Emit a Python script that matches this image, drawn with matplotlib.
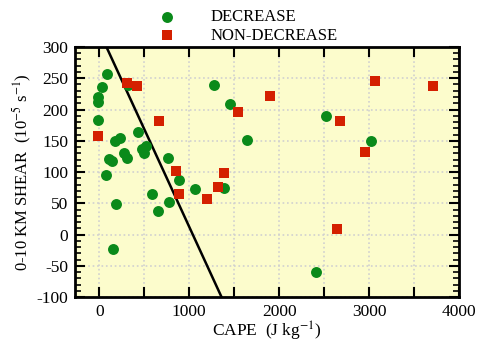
import matplotlib
matplotlib.use("Agg")
import matplotlib.pyplot as plt
from matplotlib.ticker import MultipleLocator, FuncFormatter

plt.rcParams['font.family'] = ['Liberation Serif', 'DejaVu Serif']
plt.rcParams['mathtext.fontset'] = 'stix'
plt.rcParams['axes.unicode_minus'] = False

# DECREASE cases (CAPE, shear)
dec_cape = [89, 33, -11, -11, -11, 323, 1281, 1459, 1648, 434, 178, 234, 278, 312,
            480, 515, 500, 112, 145, 768, 78, 891, 1069, 1392, 590, 780, 657, 189,
            156, 2517, 3018, 2416]
dec_shear = [257, 236, 220, 212, 183, 239, 239, 209, 151, 164, 150, 154, 131, 122,
             137, 142, 131, 121, 117, 122, 95, 87, 73, 75, 65, 52, 38, 49,
             -23, 190, 150, -60]

# NON-DECREASE cases
non_cape = [-11, 312, 423, 668, 857, 1392, 1325, 1203, 891, 1548, 1904, 3062, 3708,
            2673, 2951, 2639]
non_shear = [157, 242, 237, 182, 102, 99, 76, 57, 65, 196, 222, 246, 237,
             182, 132, 9]

# discriminant line end points
line_cape = [80, 1360]
line_shear = [300, -100]

fig = plt.figure(figsize=(4.82, 3.43), dpi=100)
ax = fig.add_axes([0.1556, 0.134, 0.7964, 0.729])
ax.set_facecolor('#fcfccc')

ax.plot(line_cape, line_shear, color='black', lw=1.8, zorder=2)
ax.scatter(dec_cape, dec_shear, s=62, color='#0a8a1a', marker='o', lw=0,
           label='DECREASE', zorder=3)
ax.scatter(non_cape, non_shear, s=62, color='#d42000', marker='s', lw=0,
           label='NON-DECREASE', zorder=3)

ax.set_xlim(-270, 4000)
ax.set_ylim(-100, 300)
ax.xaxis.set_major_locator(MultipleLocator(500))
ax.xaxis.set_major_formatter(FuncFormatter(
    lambda v, p: '%d' % v if v % 1000 == 0 else ''))
ax.yaxis.set_major_locator(MultipleLocator(50))
ax.yaxis.set_minor_locator(MultipleLocator(10))

ax.tick_params(which='both', direction='in', top=True, right=True,
               labelsize=12.5, width=1.5, pad=5)
ax.tick_params(which='major', length=7)
ax.tick_params(which='minor', length=4, width=1.2)
for sp in ax.spines.values():
    sp.set_linewidth(2)

ax.grid(True, which='major', color='#d0d0d0', linestyle=':', linewidth=1.2)
ax.set_axisbelow(True)

ax.set_xlabel(r'CAPE  (J kg$^{-1}$)', fontsize=12.5, labelpad=0)
ax.set_ylabel(r'0-10 KM SHEAR  (10$^{-5}$ s$^{-1}$)', fontsize=12, labelpad=2)

fig.legend(loc='upper left', bbox_to_anchor=(0.2875, 1.007), frameon=False,
           fontsize=12, handletextpad=1.6, labelspacing=0.15, borderpad=0.2)

fig.savefig('out.png', dpi=100)
